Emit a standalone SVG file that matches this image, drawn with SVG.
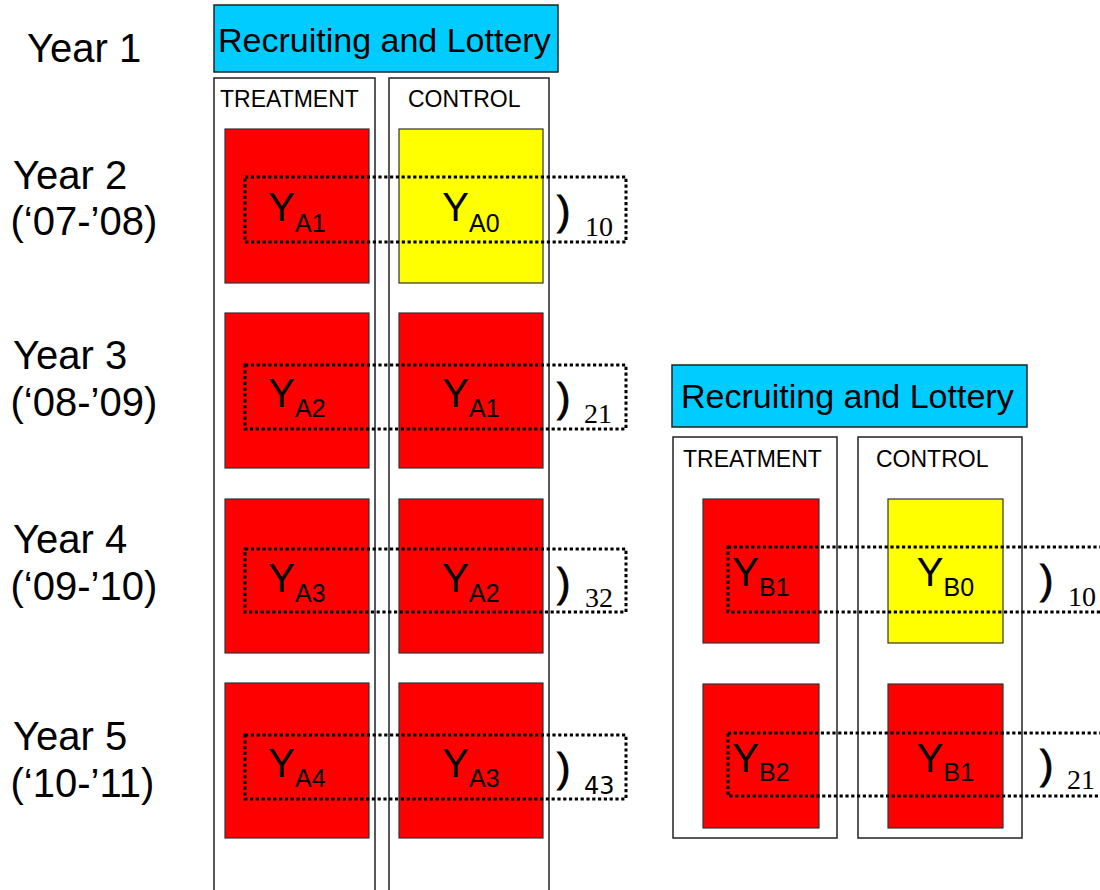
<svg xmlns="http://www.w3.org/2000/svg" width="1100" height="890" viewBox="0 0 1100 890">
<style>
  .sans { font-family: "Liberation Sans", Arial, sans-serif; fill: #000; }
  .year { font-size: 40px; }
  .hdr { fill: #00CCFF; stroke: #222; stroke-width: 1.5; }
  .hdrtxt { font-size: 34px; }
  .col { fill: none; stroke: #222; stroke-width: 1.5; }
  .coltxt { font-size: 23px; }
  .red { fill: #FF0000; stroke: #333; stroke-width: 1.2; }
  .yel { fill: #FFFF00; stroke: #333; stroke-width: 1.2; }
  .ylab { font-size: 40px; text-anchor: middle; }
  .sub { font-size: 25px; }
  .dot { fill: none; stroke: #000; stroke-width: 3; stroke-dasharray: 3.2 2.6; }
  .par { font-size: 40px; stroke: #000; stroke-width: 0.9; }
  .num { font-family: "Liberation Serif", "Times New Roman", serif; font-size: 28px; }
  .num2 { font-family: "DejaVu Sans", "Open Sans", sans-serif; font-size: 24px; }
</style>
<rect width="1100" height="890" fill="#fff"/>

<g id="year-labels" class="sans year">
  <text x="27" y="62">Year 1</text>
  <text x="13" y="189">Year 2</text>
  <text x="10.5" y="235">(‘07-’08)</text>
  <text x="13" y="369">Year 3</text>
  <text x="10.5" y="416">(‘08-’09)</text>
  <text x="13" y="553">Year 4</text>
  <text x="10.5" y="600">(‘09-’10)</text>
  <text x="13" y="750">Year 5</text>
  <text x="10.5" y="797">(‘10-’11)</text>
</g>

<g id="cohort-a">
  <g id="header-a">
    <rect class="hdr" x="214" y="5" width="344" height="67"/>
    <text class="sans hdrtxt" x="218" y="52">Recruiting and Lottery</text>
  </g>
  <g id="treatment-a">
    <rect class="col" x="214" y="78" width="161" height="820"/>
    <text class="sans coltxt" x="220" y="107">TREATMENT</text>
  </g>
  <g id="control-a">
    <rect class="col" x="389" y="78" width="160" height="820"/>
    <text class="sans coltxt" x="408" y="107">CONTROL</text>
  </g>
  <g id="a-t1"><rect class="red" x="225" y="129" width="144" height="154"/></g>
  <g id="a-c1"><rect class="yel" x="399" y="129" width="144" height="154"/></g>
  <g id="a-t2"><rect class="red" x="225" y="313" width="144" height="155"/></g>
  <g id="a-c2"><rect class="red" x="399" y="313" width="144" height="155"/></g>
  <g id="a-t3"><rect class="red" x="225" y="499" width="144" height="154"/></g>
  <g id="a-c3"><rect class="red" x="399" y="499" width="144" height="154"/></g>
  <g id="a-t4"><rect class="red" x="225" y="683" width="144" height="155"/></g>
  <g id="a-c4"><rect class="red" x="399" y="683" width="144" height="155"/></g>
</g>

<g id="cohort-b">
  <g id="header-b">
    <rect class="hdr" x="672" y="365" width="355" height="62"/>
    <text class="sans hdrtxt" x="681" y="408">Recruiting and Lottery</text>
  </g>
  <g id="treatment-b">
    <rect class="col" x="673" y="437" width="164" height="401"/>
    <text class="sans coltxt" x="683" y="467">TREATMENT</text>
  </g>
  <g id="control-b">
    <rect class="col" x="858" y="437" width="164" height="401"/>
    <text class="sans coltxt" x="876" y="467">CONTROL</text>
  </g>
  <g id="b-t1"><rect class="red" x="703" y="499" width="116" height="144"/></g>
  <g id="b-c1"><rect class="yel" x="888" y="499" width="115" height="144"/></g>
  <g id="b-t2"><rect class="red" x="703" y="684" width="116" height="144"/></g>
  <g id="b-c2"><rect class="red" x="888" y="684" width="115" height="144"/></g>
</g>

<g id="comparisons">
  <rect class="dot" x="245" y="177" width="381" height="65"/>
  <rect class="dot" x="245" y="365" width="381" height="64"/>
  <rect class="dot" x="245" y="549" width="381" height="63"/>
  <rect class="dot" x="245" y="735" width="381" height="64"/>
  <rect class="dot" x="728" y="547" width="400" height="65"/>
  <rect class="dot" x="728" y="733" width="400" height="63"/>
</g>

<g id="labels" class="sans">
  <text class="ylab" x="297" y="221">Y<tspan class="sub" dy="11">A1</tspan></text>
  <text class="ylab" x="471" y="221">Y<tspan class="sub" dy="11">A0</tspan></text>
  <text class="ylab" x="297" y="407">Y<tspan class="sub" dy="10">A2</tspan></text>
  <text class="ylab" x="471" y="407">Y<tspan class="sub" dy="10">A1</tspan></text>
  <text class="ylab" x="297" y="592">Y<tspan class="sub" dy="10">A3</tspan></text>
  <text class="ylab" x="471" y="592">Y<tspan class="sub" dy="10">A2</tspan></text>
  <text class="ylab" x="297" y="777">Y<tspan class="sub" dy="10">A4</tspan></text>
  <text class="ylab" x="471" y="777">Y<tspan class="sub" dy="10">A3</tspan></text>
  <text class="ylab" x="761" y="586">Y<tspan class="sub" dy="10">B1</tspan></text>
  <text class="ylab" x="945.5" y="586">Y<tspan class="sub" dy="10">B0</tspan></text>
  <text class="ylab" x="761" y="772">Y<tspan class="sub" dy="9">B2</tspan></text>
  <text class="ylab" x="945.5" y="772">Y<tspan class="sub" dy="9">B1</tspan></text>

  <text class="par" x="557" y="225">)</text>
  <text class="par" x="557" y="412">)</text>
  <text class="par" x="557" y="597">)</text>
  <text class="par" x="557" y="782">)</text>
  <text class="par" x="1040" y="594">)</text>
  <text class="par" x="1040" y="779">)</text>
</g>
<g id="numbers">
  <text class="num" x="585" y="236">10</text>
  <text class="num" x="584" y="423">21</text>
  <text class="num" x="585" y="607">32</text>
  <text class="num2" x="584" y="794">43</text>
  <text class="num" x="1068" y="606">10</text>
  <text class="num" x="1067" y="789">21</text>
</g>
</svg>
